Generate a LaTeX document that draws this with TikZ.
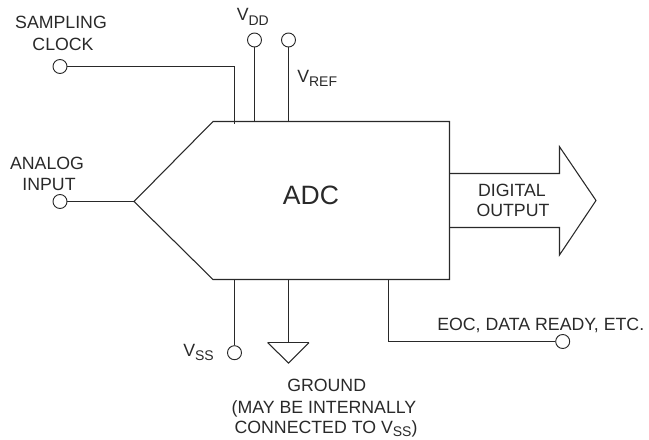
\documentclass[tikz,border=0pt]{standalone}
\usepackage{fontspec}
\setmainfont{Liberation Sans}
\newcommand{\lowtxt}[1]{\raisebox{-3.2pt}{\fontsize{10.5}{12}\selectfont #1}}
\newcommand{\lowtxtb}[1]{\raisebox{-2.4pt}{\fontsize{10.5}{12}\selectfont #1}}
\definecolor{ink}{gray}{0.16}
\tikzset{
  wire/.style={draw=ink,line width=0.8pt,line cap=butt},
  pin/.style={circle,draw=ink,line width=0.7pt,fill=white,minimum size=10.5pt,inner sep=0pt},
  lab/.style={inner sep=0pt,anchor=base,text=ink,font=\fontsize{13.3}{16}\selectfont},
  labw/.style={lab,anchor=base west},
  biglab/.style={lab,font=\fontsize{19.9}{24}\selectfont}
}
\begin{document}
\begin{tikzpicture}[x=0.75pt,y=-0.75pt]
\useasboundingbox (0,0) rectangle (649,439);
% body outline corners
\coordinate (tip) at (134,201.5);
\coordinate (tl) at (213,121.5);
\coordinate (tr) at (449.5,121.5);
\coordinate (br) at (449.5,279.5);
\coordinate (bl) at (213,279.5);
% body junctions
\coordinate (jclk) at (234.5,124);
\coordinate (jclkc) at (234.5,66.5);
\coordinate (jdd) at (254.5,121.5);
\coordinate (jref) at (288.5,121.5);
\coordinate (jss) at (234.5,279.5);
\coordinate (jgnd) at (288.5,279.5);
\coordinate (jeoc) at (388.5,279.5);
\coordinate (jeocc) at (388.5,341.5);
\coordinate (gndtop) at (288.5,342.5);
\coordinate (gndl) at (267.5,342.5);
\coordinate (gndr) at (309,342.5);
\coordinate (gndb) at (288.5,363);
% arrow
\coordinate (a1) at (449.5,173.5);
\coordinate (a2) at (559.5,173.5);
\coordinate (a3) at (559.5,146.7);
\coordinate (a4) at (596,200.5);
\coordinate (a5) at (559.5,255);
\coordinate (a6) at (559.5,227.5);
\coordinate (a7) at (449.5,227.5);

\draw[wire,line join=miter] (tip) -- (tl) -- (tr) -- (br) -- (bl) -- cycle;
\draw[wire,line join=miter] (a1) -- (a2) -- (a3) -- (a4) -- (a5) -- (a6) -- (a7);

\node[pin] (clk) at (60,66.5) {};
\node[pin] (ain) at (60,201.5) {};
\node[pin] (vdd) at (254.5,40) {};
\node[pin] (vref) at (288.5,40) {};
\node[pin] (vss) at (234.5,352.7) {};
\node[pin] (eoc) at (562.7,341.5) {};

\draw[wire] (clk) -- (jclkc) -- (jclk);
\draw[wire] (ain) -- (tip);
\draw[wire] (vdd) -- (jdd);
\draw[wire] (vref) -- (jref);
\draw[wire] (jss) -- (vss);
\draw[wire] (jgnd) -- (gndtop);
\draw[wire] (jeoc) -- (jeocc) -- (eoc);
\draw[wire,line join=miter] (gndl) -- (gndb) -- (gndr);
\draw[draw=ink,line width=1.2pt] (gndl) -- (gndr);

\node[lab] (t1) at (61,28) {SAMPLING};
\node[lab] (t2) at (63,50) {CLOCK};
\node[lab] (t3) at (47,169) {ANALOG};
\node[lab] (t4) at (49,190) {INPUT};
\node[labw] (t5) at (236.5,21) {V\lowtxt{DD}};
\node[labw] (t6) at (297,82) {V\lowtxt{REF}};
\node[biglab] (t7) at (311,204) {ADC};
\node[lab] (t8) at (512,196) {DIGITAL};
\node[lab] (t9) at (513,216.7) {OUTPUT};
\node[labw] (t10) at (437,330) {EOC, DATA READY, ETC.};
\node[labw] (t11) at (183,356.7) {V\lowtxt{SS}};
\node[lab] (t12) at (326.7,391) {GROUND};
\node[lab] (t13) at (324,413) {(MAY BE INTERNALLY};
\node[lab] (t14) at (326,433.5) {CONNECTED TO V\lowtxtb{SS})};
\end{tikzpicture}
\end{document}
